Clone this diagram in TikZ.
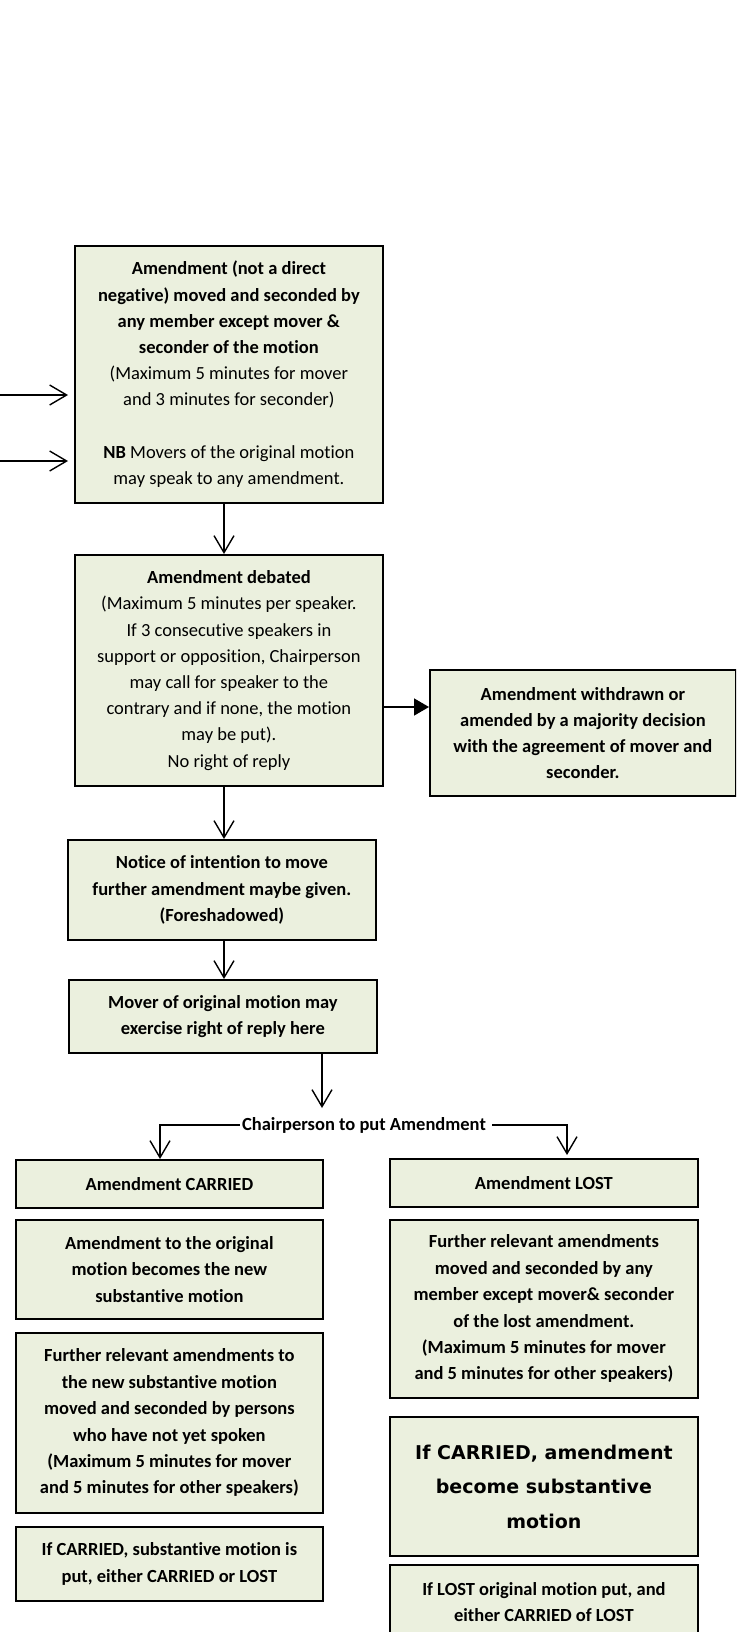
\documentclass[tikz,border=0pt]{standalone}
\usepackage{fontspec}
\setmainfont[RawFeature={-liga;-clig;-calt;-dlig}]{Carlito}
\newfontfamily\verdfont{DejaVu Sans}
\usetikzlibrary{arrows.meta}
\definecolor{boxfill}{HTML}{EBF0DE}
\begin{document}
\begin{tikzpicture}[x=1pt,y=-1pt,
  box/.style={draw=black,line width=1.8pt,fill=boxfill,inner sep=0pt,align=center,anchor=north west,font=\fontsize{18.5}{26.2}\selectfont},
  oarr/.style={line width=1.4pt,-{Straight Barb[length=17pt,width=20pt,line width=1.4pt]}},
  farr/.style={line width=1.6pt,-{Triangle[length=15pt,width=17pt]}},
  lbl/.style={inner sep=0pt,font=\bfseries\fontsize{18.5}{26}\selectfont}]
\useasboundingbox (0,0) rectangle (736,1632);
\clip (0,0) rectangle (736,1632);

\node[box,minimum width=308pt,minimum height=257pt] (b1) at (74,245)
 {\textbf{Amendment (not a direct}\\ \textbf{negative) moved and seconded by}\\ \textbf{any member except mover \&}\\ \textbf{seconder of the motion}\\ (Maximum 5 minutes for mover\\ and 3 minutes for seconder)\\[26.2pt] \textbf{NB} Movers of the original motion\\ may speak to any amendment.};

\node[box,minimum width=308pt,minimum height=231pt] (b2) at (74,554)
 {\textbf{Amendment debated}\\ (Maximum 5 minutes per speaker.\\ If 3 consecutive speakers in\\ support or opposition, Chairperson\\ may call for speaker to the\\ contrary and if none, the motion\\ may be put).\\ No right of reply};

\node[box,minimum width=306pt,minimum height=126pt,font=\bfseries\fontsize{18.5}{26.2}\selectfont] (b3) at (429,669)
 {Amendment withdrawn or\\ amended by a majority decision\\ with the agreement of mover and\\ seconder.};

\node[box,minimum width=308pt,minimum height=100pt,font=\bfseries\fontsize{18.5}{26.2}\selectfont] (b4) at (67,839)
 {Notice of intention to move\\ further amendment maybe given.\\ (Foreshadowed)};

\node[box,minimum width=308pt,minimum height=73pt,font=\bfseries\fontsize{18.5}{26.2}\selectfont] (b5) at (68,979)
 {Mover of original motion may\\ exercise right of reply here};

\node[lbl] (chair) at (364,1125) {Chairperson to put Amendment};

\node[box,minimum width=307pt,minimum height=48pt,font=\bfseries\fontsize{18.5}{26.2}\selectfont] (L1) at (15,1159) {Amendment CARRIED};
\node[box,minimum width=307pt,minimum height=99pt,font=\bfseries\fontsize{18.5}{26.2}\selectfont] (L2) at (15,1219)
 {Amendment to the original\\ motion becomes the new\\ substantive motion};
\node[box,minimum width=307pt,minimum height=180pt,font=\bfseries\fontsize{18.5}{26.4}\selectfont] (L3) at (15,1332)
 {Further relevant amendments to\\ the new substantive motion\\ moved and seconded by persons\\ who have not yet spoken\\ (Maximum 5 minutes for mover\\ and 5 minutes for other speakers)};
\node[box,minimum width=307pt,minimum height=74pt,font=\bfseries\fontsize{18.5}{26.2}\selectfont] (L4) at (15,1526)
 {If CARRIED, substantive motion is\\ put, either CARRIED or LOST};

\node[box,minimum width=308pt,minimum height=48pt,font=\bfseries\fontsize{18.5}{26.2}\selectfont] (R1) at (389,1158) {Amendment LOST};
\node[box,minimum width=308pt,minimum height=178pt,font=\bfseries\fontsize{18.5}{26.4}\selectfont] (R2) at (389,1219)
 {Further relevant amendments\\ moved and seconded by any\\ member except mover\& seconder\\ of the lost amendment.\\ (Maximum 5 minutes for mover\\ and 5 minutes for other speakers)};
\node[box,minimum width=308pt,minimum height=139pt,font=\verdfont\bfseries\fontsize{19}{34.5}\selectfont] (R3) at (389,1416)
 {If CARRIED, amendment\\ become substantive\\ motion};
\node[box,minimum width=308pt,minimum height=74pt,font=\bfseries\fontsize{18.5}{26.2}\selectfont] (R4) at (389,1564)
 {If LOST original motion put, and\\ either CARRIED of LOST};

% connectors
\coordinate (ax) at (224,0);
\coordinate (in1) at (0,395);
\coordinate (in2) at (0,461);
\coordinate (ay) at (0,707);
\coordinate (cx) at (322,1108);
\coordinate (lx) at (160,0);
\coordinate (rx) at (567,0);

\draw[oarr,shorten >=6pt] (in1) -- (b1.west |- in1);
\draw[oarr,shorten >=6pt] (in2) -- (b1.west |- in2);
\draw[oarr] (b1.south -| ax) -- (b2.north -| ax);
\draw[farr] (b2.east |- ay) -- (b3.west |- ay);
\draw[oarr] (b2.south -| ax) -- (b4.north -| ax);
\draw[oarr] (b4.south -| ax) -- (b5.north -| ax);
\draw[oarr] (b5.south -| cx) -- (cx);
\draw[oarr] ([xshift=-2pt]chair.west) -| (L1.north -| lx);
\draw[oarr,shorten >=3pt] ([xshift=6pt]chair.east) -| (R1.north -| rx);
\end{tikzpicture}
\end{document}
